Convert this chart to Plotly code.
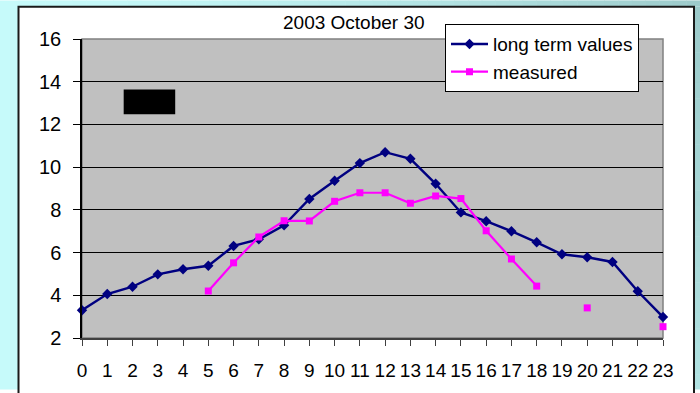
import plotly.graph_objects as go

# Hourly values for the day
hours = list(range(24))
long_term = [3.30, 4.06, 4.40, 4.98, 5.22, 5.38, 6.31, 6.62, 7.28, 8.51, 9.36, 10.19,
             10.70, 10.39, 9.22, 7.88, 7.47, 7.00, 6.48, 5.92, 5.78, 5.56, 4.19, 2.98]
measured = [None, None, None, None, None, 4.20, 5.52, 6.73, 7.49, 7.48, 8.40, 8.80,
            8.80, 8.31, 8.65, 8.53, 7.02, 5.70, 4.43, None, 3.41, None, None, 2.53]
y_ticks = [2, 4, 6, 8, 10, 12, 14, 16]
title_text = "2003 October 30"
series_names = ["long term values", "measured"]

W, H = 700, 393
ML, MR, MT, MB = 82, 37, 39, 52
PW, PH = W - ML - MR, H - MT - MB


def px_x(px):
    return (px - ML) / PW


def px_y(py):
    return (H - MB - py) / PH


FONT = "Liberation Sans, Arial, sans-serif"

fig = go.Figure()
fig.add_trace(go.Scatter(
    x=hours, y=long_term, name=series_names[0], mode="lines+markers",
    line=dict(color="#000080", width=2.4),
    marker=dict(symbol="diamond", size=8, color="#000080"),
    cliponaxis=False,
))
fig.add_trace(go.Scatter(
    x=hours, y=measured, name=series_names[1], mode="lines+markers",
    line=dict(color="#FF00FF", width=2.2),
    marker=dict(symbol="square", size=7, color="#FF00FF"),
    connectgaps=False, cliponaxis=False,
))

shapes = []


def bg_color(x, y):
    t = (x / W) ** 1.5 * (1 - 0.5 * y / H)
    light, dark = (198, 250, 250), (156, 202, 202)
    c = [round(l + (d - l) * t) for l, d in zip(light, dark)]
    return "rgb(%d,%d,%d)" % tuple(c)


# cyan backdrop around the white chart panel
shapes.append(dict(type="rect", xref="paper", yref="paper", layer="below",
                   x0=px_x(0), x1=px_x(18), y0=px_y(H), y1=px_y(0),
                   line=dict(width=0), fillcolor=bg_color(0, 200)))
nseg = 50
for i in range(nseg):
    x0 = 18 + (W - 18) * i / nseg
    x1 = 18 + (W - 18) * (i + 1) / nseg + 0.5
    shapes.append(dict(type="rect", xref="paper", yref="paper", layer="below",
                       x0=px_x(x0), x1=px_x(x1), y0=px_y(6), y1=px_y(0),
                       line=dict(width=0), fillcolor=bg_color((x0 + x1) / 2, 3)))
for i in range(25):
    y0 = 6 + (H - 6) * i / 25
    y1 = 6 + (H - 6) * (i + 1) / 25 + 0.5
    shapes.append(dict(type="rect", xref="paper", yref="paper", layer="below",
                       x0=px_x(695), x1=px_x(W), y0=px_y(min(y1, H)), y1=px_y(y0),
                       line=dict(width=0), fillcolor=bg_color(697, (y0 + y1) / 2)))
# panel border (left, top, right)
border = dict(color="#1a1a1a", width=2)
shapes.append(dict(type="path", xref="paper", yref="paper", layer="below",
                   path="M %f,%f L %f,%f L %f,%f L %f,%f" % (
                       px_x(18.5), px_y(H + 4), px_x(18.5), px_y(6.5),
                       px_x(694), px_y(6.5), px_x(694), px_y(H + 4)),
                   line=border))
# plot area frame (top / right)
shapes.append(dict(type="rect", xref="paper", yref="paper", layer="below",
                   x0=0, x1=1, y0=0, y1=1, line=dict(color="#808080", width=1.5)))
# redaction block
shapes.append(dict(type="rect", xref="x", yref="y", layer="above",
                   x0=1.65, x1=3.69, y0=12.48, y1=13.64,
                   line=dict(width=0), fillcolor="#000000"))

fig.update_layout(
    width=W, height=H,
    margin=dict(l=ML, r=MR, t=MT, b=MB),
    paper_bgcolor="#FFFFFF",
    plot_bgcolor="#C0C0C0",
    font=dict(family=FONT, color="#000000"),
    shapes=shapes,
    showlegend=True,
    legend=dict(
        x=px_x(445), y=px_y(24), xanchor="left", yanchor="top",
        bgcolor="#FFFFFF", bordercolor="#000000", borderwidth=1,
        font=dict(family=FONT, size=19, color="#000000"),
        itemwidth=37, tracegroupgap=0,
    ),
    annotations=[dict(
        text=title_text, xref="paper", yref="paper",
        x=px_x(354), y=px_y(22), xanchor="center", yanchor="middle",
        showarrow=False, font=dict(family=FONT, size=19, color="#000000"),
    )],
)
fig.update_xaxes(
    range=[0, 23], tickmode="array", tickvals=hours, ticktext=[str(h) for h in hours],
    showgrid=False, zeroline=False,
    showline=True, linecolor="#404040", linewidth=1.5,
    ticks="outside", ticklen=6, tickwidth=1, tickcolor="#404040",
    tickfont=dict(family=FONT, size=19, color="#000000"),
    ticklabelstandoff=8,
)
fig.update_yaxes(
    range=[2, 16], tickmode="array", tickvals=y_ticks, ticktext=[str(v) for v in y_ticks],
    showgrid=True, gridcolor="#000000", gridwidth=1, zeroline=False,
    showline=True, linecolor="#000000", linewidth=1.5,
    ticks="outside", ticklen=7, tickwidth=1, tickcolor="#000000",
    tickfont=dict(family=FONT, size=20, color="#000000"),
    ticklabelstandoff=8,
)

fig.write_html("out.html")
